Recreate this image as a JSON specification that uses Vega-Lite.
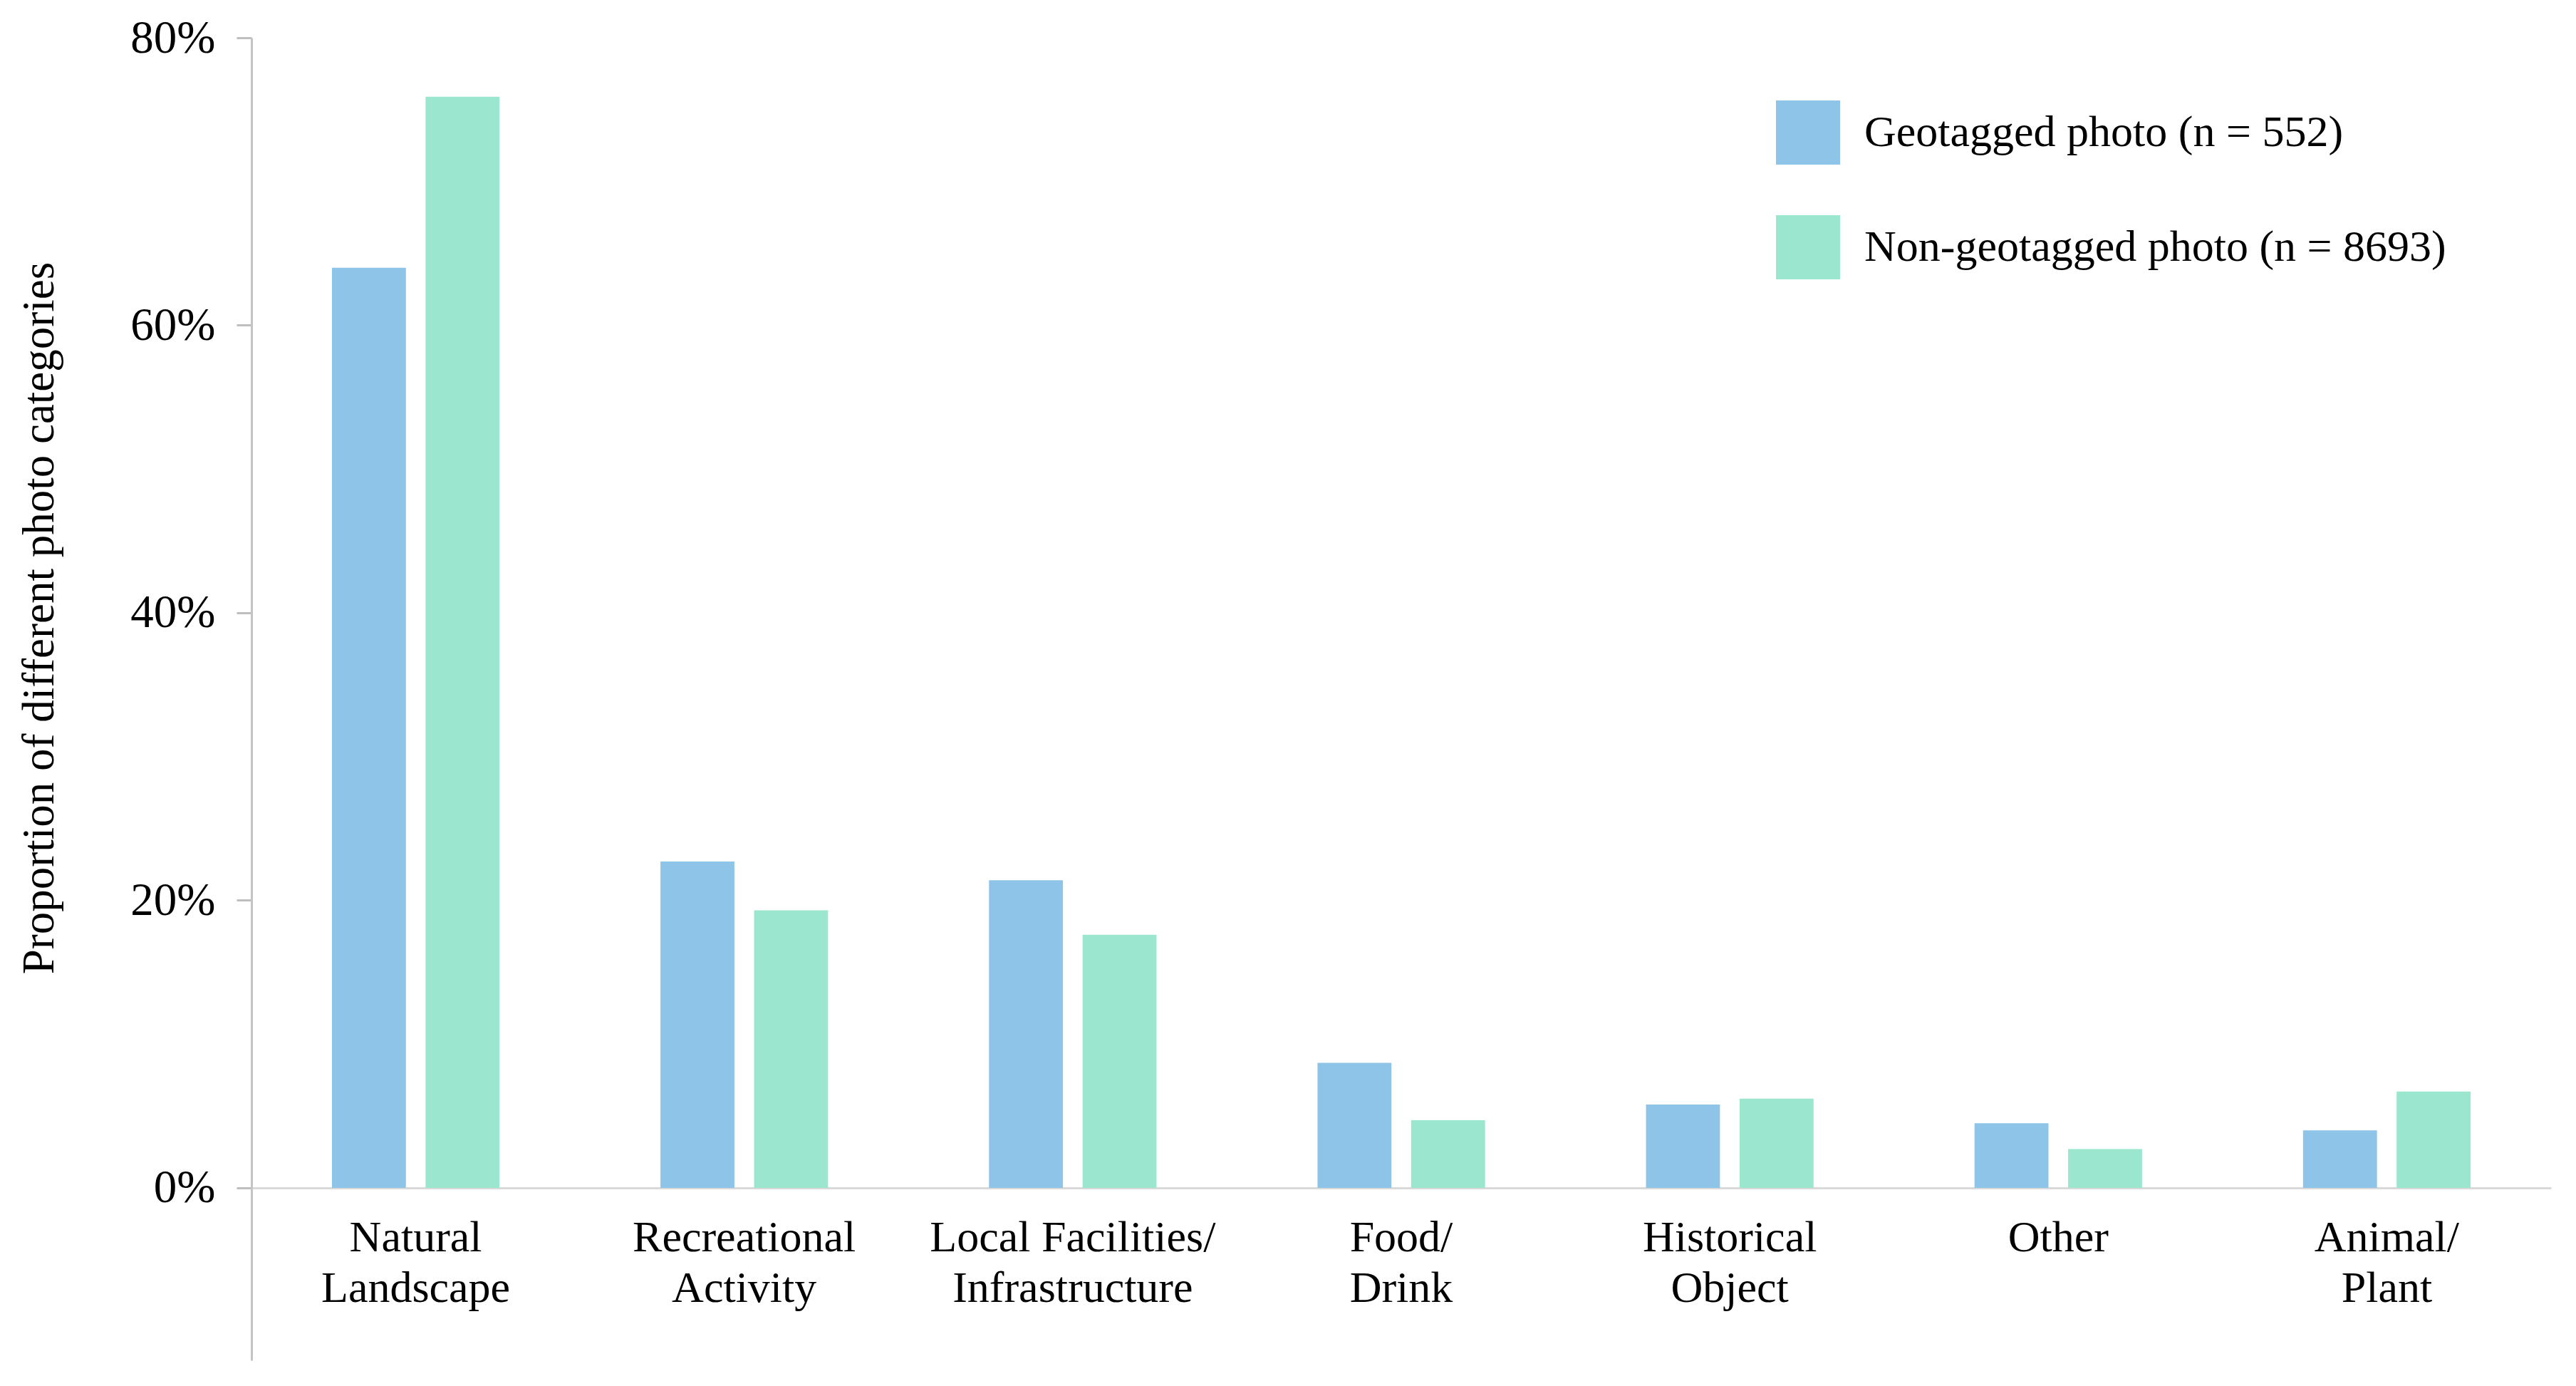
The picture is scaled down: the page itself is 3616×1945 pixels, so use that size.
{
  "$schema": "https://vega.github.io/schema/vega-lite/v6.json",
  "autosize": {"type": "none"},
  "width": 3228,
  "height": 1856,
  "padding": {"left": 353, "top": 53, "right": 35, "bottom": 36},
  "background": "white",
  "config": {
    "view": {"stroke": null},
    "font": "Liberation Serif",
    "axis": {"labelFont": "Liberation Serif", "titleFont": "Liberation Serif", "labelColor": "black", "titleColor": "black", "titleFontWeight": "normal"},
    "legend": {"labelFont": "Liberation Serif", "labelColor": "black"}
  },
  "data": {
    "values": [
      {"category": "Natural Landscape", "type": "Geotagged photo (n = 552)", "value": 0.640},
      {"category": "Natural Landscape", "type": "Non-geotagged photo (n = 8693)", "value": 0.759},
      {"category": "Recreational Activity", "type": "Geotagged photo (n = 552)", "value": 0.227},
      {"category": "Recreational Activity", "type": "Non-geotagged photo (n = 8693)", "value": 0.193},
      {"category": "Local Facilities/Infrastructure", "type": "Geotagged photo (n = 552)", "value": 0.214},
      {"category": "Local Facilities/Infrastructure", "type": "Non-geotagged photo (n = 8693)", "value": 0.176},
      {"category": "Food/Drink", "type": "Geotagged photo (n = 552)", "value": 0.087},
      {"category": "Food/Drink", "type": "Non-geotagged photo (n = 8693)", "value": 0.047},
      {"category": "Historical Object", "type": "Geotagged photo (n = 552)", "value": 0.058},
      {"category": "Historical Object", "type": "Non-geotagged photo (n = 8693)", "value": 0.062},
      {"category": "Other", "type": "Geotagged photo (n = 552)", "value": 0.045},
      {"category": "Other", "type": "Non-geotagged photo (n = 8693)", "value": 0.027},
      {"category": "Animal/Plant", "type": "Geotagged photo (n = 552)", "value": 0.040},
      {"category": "Animal/Plant", "type": "Non-geotagged photo (n = 8693)", "value": 0.067}
    ]
  },
  "mark": {"type": "bar"},
  "encoding": {
    "x": {
      "field": "category",
      "type": "nominal",
      "sort": null,
      "scale": {"paddingInner": 0.49, "paddingOuter": 0.245},
      "axis": {
        "title": null,
        "labelAngle": 0,
        "labelFontSize": 62,
        "labelLineHeight": 71,
        "labelPadding": 39,
        "labelBaseline": "top",
        "labelLimit": 2000,
        "labelOverlap": false,
        "ticks": false,
        "domainColor": "#d9d9d9",
        "domainWidth": 3,
        "offset": -242,
        "labelExpr": "indexof(datum.label, '/') >= 0 ? [slice(datum.label, 0, indexof(datum.label, '/') + 1), slice(datum.label, indexof(datum.label, '/') + 1)] : split(datum.label, ' ')"
      }
    },
    "xOffset": {
      "field": "type",
      "type": "nominal",
      "scale": {"paddingInner": 0.21, "paddingOuter": 0}
    },
    "y": {
      "field": "value",
      "type": "quantitative",
      "scale": {"domain": [-0.12, 0.8], "nice": false, "zero": false},
      "axis": {
        "title": "Proportion of different photo categories",
        "titleFontSize": 63,
        "titleAngle": -90,
        "titleX": -298,
        "titleY": 814,
        "titleAlign": "center",
        "titleBaseline": "middle",
        "values": [0, 0.2, 0.4, 0.6, 0.8],
        "format": ".0%",
        "labelFontSize": 65,
        "labelPadding": 30,
        "tickSize": 21,
        "tickWidth": 3,
        "tickColor": "#bfbfbf",
        "domainColor": "#c4c4c4",
        "domainWidth": 3,
        "grid": false
      }
    },
    "color": {
      "field": "type",
      "type": "nominal",
      "scale": {"domain": ["Geotagged photo (n = 552)", "Non-geotagged photo (n = 8693)"], "range": ["#8ec4e8", "#9ae6ce"]},
      "legend": {
        "title": null,
        "orient": "none",
        "legendX": 2140,
        "legendY": 88,
        "direction": "vertical",
        "padding": 0,
        "symbolType": "square",
        "symbolSize": 8100,
        "symbolStrokeWidth": 0,
        "symbolOpacity": 1,
        "labelFontSize": 62,
        "labelOffset": 34,
        "rowPadding": 71,
        "labelLimit": 2000
      }
    }
  }
}
